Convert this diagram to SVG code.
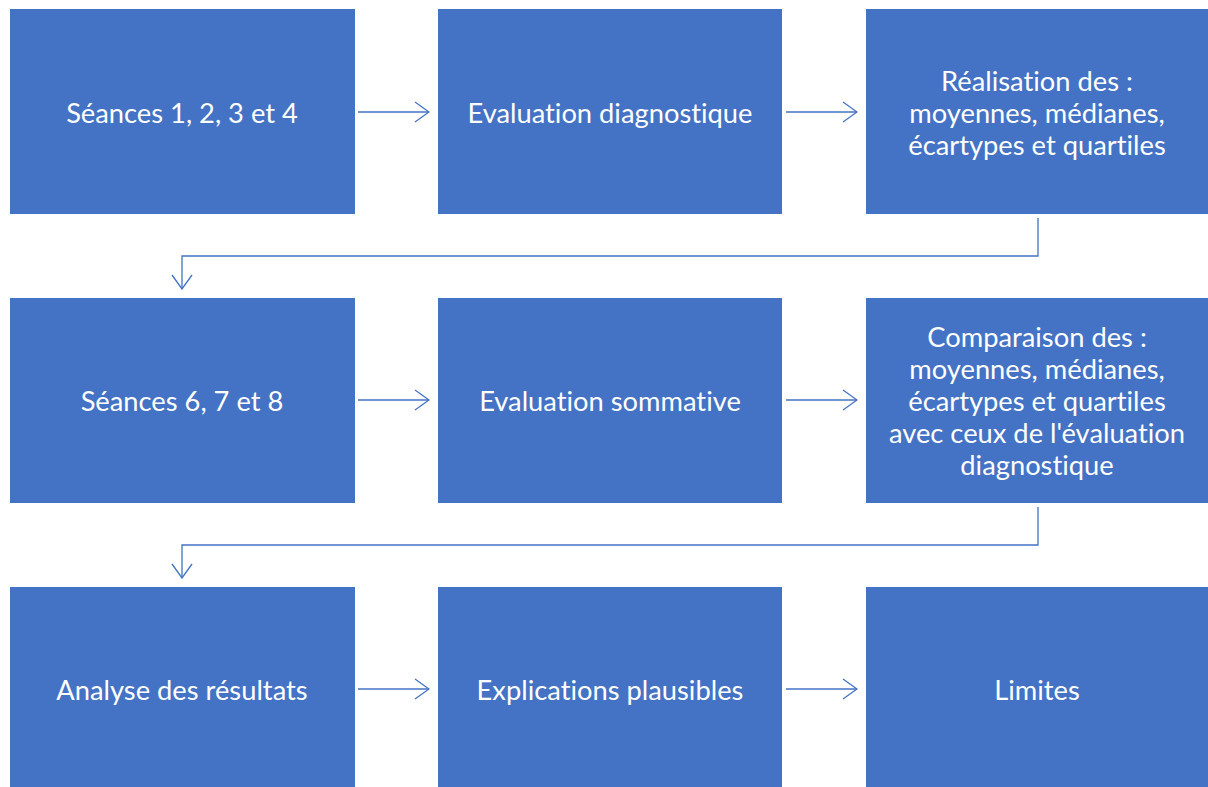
<svg xmlns="http://www.w3.org/2000/svg" width="1208" height="787" viewBox="0 0 1208 787">
<style>
.box{fill:#4472C4}
.t{font-family:Lato,"Open Sans","Liberation Sans",sans-serif;font-size:27.3px;fill:#fff;text-anchor:middle;dominant-baseline:central;font-variant-ligatures:none}
.c{fill:none;stroke:#4472C4;stroke-width:1.3}
</style>
<defs>
<marker id="ahb" viewBox="0 0 30 30" refX="29" refY="15" markerWidth="30" markerHeight="30" markerUnits="userSpaceOnUse" orient="auto">
<path d="M15,5 L29,15 L15,25" fill="none" stroke="#4472C4" stroke-width="1.3"/>
</marker>
</defs>
<g id="n1"><rect class="box" x="10" y="9" width="345" height="205"/><text class="t" x="182" y="112">Séances 1, 2, 3 et 4</text></g>
<g id="n2"><rect class="box" x="438" y="9" width="344" height="205"/><text class="t" x="610" y="112">Evaluation diagnostique</text></g>
<g id="n3"><rect class="box" x="866" y="9" width="342" height="205"/><text class="t" x="1037" y="80">Réalisation des :</text><text class="t" x="1037" y="112">moyennes, médianes,</text><text class="t" x="1037" y="144">écartypes et quartiles</text></g>
<g id="n4"><rect class="box" x="10" y="298" width="345" height="205"/><text class="t" x="182" y="400">Séances 6, 7 et 8</text></g>
<g id="n5"><rect class="box" x="438" y="298" width="344" height="205"/><text class="t" x="610" y="400">Evaluation sommative</text></g>
<g id="n6"><rect class="box" x="866" y="298" width="342" height="205"/><text class="t" x="1037" y="336">Comparaison des :</text><text class="t" x="1037" y="368">moyennes, médianes,</text><text class="t" x="1037" y="400">écartypes et quartiles</text><text class="t" x="1037" y="432">avec ceux de l'évaluation</text><text class="t" x="1037" y="464">diagnostique</text></g>
<g id="n7"><rect class="box" x="10" y="587" width="345" height="200"/><text class="t" x="182" y="689">Analyse des résultats</text></g>
<g id="n8"><rect class="box" x="438" y="587" width="344" height="200"/><text class="t" x="610" y="689">Explications plausibles</text></g>
<g id="n9"><rect class="box" x="866" y="587" width="342" height="200"/><text class="t" x="1037" y="689">Limites</text></g>
<g id="connectors">
<path class="c" d="M358,112 H429" marker-end="url(#ahb)"/>
<path class="c" d="M786,112 H857" marker-end="url(#ahb)"/>
<path class="c" d="M1038,218 V256 H182 V289" marker-end="url(#ahb)"/>
<path class="c" d="M358,400 H429" marker-end="url(#ahb)"/>
<path class="c" d="M786,400 H857" marker-end="url(#ahb)"/>
<path class="c" d="M1038,507 V545 H182 V578" marker-end="url(#ahb)"/>
<path class="c" d="M358,689 H429" marker-end="url(#ahb)"/>
<path class="c" d="M786,689 H857" marker-end="url(#ahb)"/>
</g>
</svg>
